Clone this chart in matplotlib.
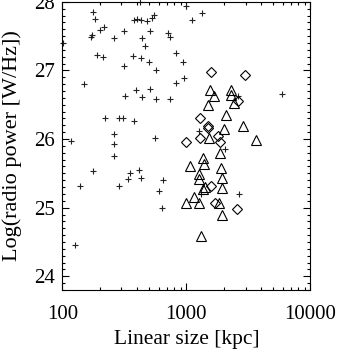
import numpy as np
import matplotlib.pyplot as plt
from matplotlib.ticker import FixedLocator, MultipleLocator, NullFormatter

plt.rcParams['font.family'] = ['Liberation Serif', 'DejaVu Serif']

# crosses (+): linear size [kpc], log radio power [W/Hz]
cross_size = [178, 184, 218, 201, 175, 170, 263, 314, 382, 403, 435, 486, 532, 544,
              512, 716, 739, 439, 460, 374, 429, 496, 192, 214, 316, 423, 102, 989,
              1331, 1118, 826, 946, 570, 964, 826, 150, 395, 514, 322, 441, 570, 732,
              2627, 5881, 222, 288, 309, 377, 262, 262, 262, 554, 117, 1261, 2059,
              178, 354, 413, 337, 430, 645, 140, 288, 606, 637, 127, 1307, 2676]
cross_power = [27.85, 27.75, 27.63, 27.59, 27.51, 27.49, 27.47, 27.57, 27.73, 27.75,
               27.74, 27.72, 27.76, 27.81, 27.58, 27.55, 27.49, 27.47, 27.36, 27.21,
               27.18, 27.12, 27.22, 27.20, 27.07, 28.00, 27.40, 27.94, 27.83, 27.73,
               27.25, 27.12, 27.00, 26.89, 26.82, 26.80, 26.72, 26.73, 26.63, 26.61,
               26.59, 26.58, 26.63, 26.65, 26.31, 26.30, 26.31, 26.26, 26.08, 25.93,
               25.75, 26.01, 25.97, 26.11, 25.85, 25.54, 25.51, 25.55, 25.42, 25.43,
               25.41, 25.32, 25.32, 25.24, 25.00, 24.45, 25.20, 25.20]

# triangles
tri_size = [1552, 1673, 2307, 2273, 2412, 1488, 2071, 2025, 2883, 1533, 3649, 1852,
            1356, 1389, 1077, 1915, 1266, 1273, 1922, 1364, 1415, 1922, 1158, 994,
            1266, 1829, 1922, 1319]
tri_power = [26.72, 26.62, 26.71, 26.64, 26.53, 26.49, 26.35, 26.14, 26.19, 26.01,
             25.99, 25.80, 25.73, 25.64, 25.61, 25.58, 25.49, 25.42, 25.43, 25.27,
             25.30, 25.28, 25.16, 25.07, 25.07, 25.07, 24.90, 24.59]

# diamonds
dia_size = [1582, 2991, 2588, 1290, 1488, 1488, 1290, 1785, 1863, 1000, 1588, 1713, 2578]
dia_power = [26.98, 26.94, 26.55, 26.31, 26.19, 26.16, 26.02, 26.04, 25.95, 25.96,
             25.32, 25.07, 24.98]

fig = plt.figure(figsize=(3.38, 3.49), dpi=100)
ax = fig.add_axes([0.1843, 0.1691, 0.7340, 0.8257])

ax.plot(cross_size, cross_power, '+', color='#222222', markersize=4, mew=0.8,
        linestyle='none', clip_on=False)
ax.plot(tri_size, tri_power, '^', markerfacecolor='none', markeredgecolor='black',
        markersize=6.5, mew=0.8, linestyle='none')
ax.plot(dia_size, dia_power, 'D', markerfacecolor='none', markeredgecolor='black',
        markersize=5, mew=0.8, linestyle='none')

ax.set_xscale('log')
ax.set_xlim(100, 10000)
ax.set_ylim(23.8, 28.0)

ax.xaxis.set_major_locator(FixedLocator([100, 1000, 10000]))
ax.xaxis.set_minor_locator(FixedLocator([m * d for d in (100, 1000) for m in range(2, 10)]))
ax.xaxis.set_minor_formatter(NullFormatter())
ax.set_xticklabels(['100', '1000', '10000'])
ax.yaxis.set_major_locator(MultipleLocator(1))
ax.yaxis.set_minor_locator(MultipleLocator(0.1))

ax.tick_params(which='both', direction='in', top=True, right=True, labelsize=15, width=0.8)
ax.tick_params(which='major', length=5)
ax.tick_params(which='minor', length=2.5)
ax.tick_params(axis='x', which='major', pad=11)
ax.tick_params(axis='y', which='major', pad=5)
for s in ax.spines.values():
    s.set_linewidth(0.8)

ax.set_xlabel('Linear size [kpc]', fontsize=15.5, labelpad=4)
ax.set_ylabel('Log(radio power [W/Hz])', fontsize=16, labelpad=9)

fig.savefig('out.png', dpi=100)
